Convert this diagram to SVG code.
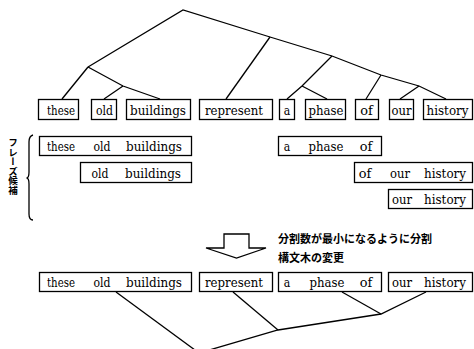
<svg xmlns="http://www.w3.org/2000/svg" width="474" height="349" viewBox="0 0 474 349">
<style>
.box{fill:#fff;stroke:#000;stroke-width:1.3}
.w{font-family:'DejaVu Serif','Liberation Serif',serif;font-size:13.5px;fill:#000;text-anchor:middle}
.jp{font-family:"Noto Sans CJK JP","Noto Sans CJK SC",sans-serif;font-size:11px;font-weight:bold;fill:#000}
.e{stroke:#000;stroke-width:1.3;fill:none}
</style>
<rect width="474" height="349" fill="#fff"/>
<g id="connectors">
<polyline class="e" points="88,67 183,10 270,37 332,56 381,75 419,86 446,99"/>
<line class="e" x1="88" y1="67" x2="62" y2="99"/>
<polyline class="e" points="88,67 123,86 160,99"/>
<line class="e" x1="123" y1="86" x2="104" y2="99"/>
<line class="e" x1="270" y1="37" x2="226" y2="99"/>
<polyline class="e" points="332,56 302,86 287,99"/>
<line class="e" x1="302" y1="86" x2="327" y2="99"/>
<line class="e" x1="381" y1="75" x2="366" y2="99"/>
<line class="e" x1="419" y1="86" x2="400" y2="99"/>
<line class="e" x1="116" y1="292" x2="199" y2="353"/>
<polyline class="e" points="199,353 278,330 381,314 426,292"/>
<line class="e" x1="233" y1="292" x2="278" y2="330"/>
<line class="e" x1="342" y1="292" x2="381" y2="314"/>
</g>
<g id="top-these"><rect class="box" x="38.5" y="99.5" width="40" height="20"/><text class="w" x="61" y="114.5" textLength="28" lengthAdjust="spacingAndGlyphs">these</text></g>
<g id="top-old"><rect class="box" x="91.5" y="99.5" width="25" height="20"/><text class="w" x="104.5" y="114.5" textLength="17" lengthAdjust="spacingAndGlyphs">old</text></g>
<g id="top-buildings"><rect class="box" x="126.5" y="99.5" width="64" height="20"/><text class="w" x="158" y="114.5" textLength="56" lengthAdjust="spacingAndGlyphs">buildings</text></g>
<g id="top-represent"><rect class="box" x="199.5" y="99.5" width="73" height="20"/><text class="w" x="234" y="114.5" textLength="58" lengthAdjust="spacingAndGlyphs">represent</text></g>
<g id="top-a"><rect class="box" x="279.5" y="99.5" width="15" height="20"/><text class="w" x="287" y="114.5" textLength="6.5" lengthAdjust="spacingAndGlyphs">a</text></g>
<g id="top-phase"><rect class="box" x="305.5" y="99.5" width="40" height="20"/><text class="w" x="326" y="114.5" textLength="35" lengthAdjust="spacingAndGlyphs">phase</text></g>
<g id="top-of"><rect class="box" x="355.5" y="99.5" width="23" height="20"/><text class="w" x="366.5" y="114.5" textLength="12.5" lengthAdjust="spacingAndGlyphs">of</text></g>
<g id="top-our"><rect class="box" x="389.5" y="99.5" width="24" height="20"/><text class="w" x="401.5" y="114.5" textLength="20" lengthAdjust="spacingAndGlyphs">our</text></g>
<g id="top-history"><rect class="box" x="423.5" y="99.5" width="49" height="20"/><text class="w" x="447.5" y="114.5" textLength="42" lengthAdjust="spacingAndGlyphs">history</text></g>

<g id="cand-these-old-buildings"><rect class="box" x="39.5" y="136.5" width="152" height="19"/><text class="w" x="61" y="151" textLength="28" lengthAdjust="spacingAndGlyphs">these</text><text class="w" x="102" y="151" textLength="17" lengthAdjust="spacingAndGlyphs">old</text><text class="w" x="154" y="151" textLength="56" lengthAdjust="spacingAndGlyphs">buildings</text></g>
<g id="cand-old-buildings"><rect class="box" x="80.5" y="162.5" width="111" height="20"/><text class="w" x="100" y="177.5" textLength="17" lengthAdjust="spacingAndGlyphs">old</text><text class="w" x="153" y="177.5" textLength="56" lengthAdjust="spacingAndGlyphs">buildings</text></g>
<g id="cand-a-phase-of"><rect class="box" x="278.5" y="136.5" width="103" height="19"/><text class="w" x="287" y="151" textLength="6.5" lengthAdjust="spacingAndGlyphs">a</text><text class="w" x="326" y="151" textLength="35" lengthAdjust="spacingAndGlyphs">phase</text><text class="w" x="366" y="151" textLength="12.5" lengthAdjust="spacingAndGlyphs">of</text></g>
<g id="cand-of-our-history"><rect class="box" x="354.5" y="162.5" width="118" height="20"/><text class="w" x="365" y="177.5" textLength="12.5" lengthAdjust="spacingAndGlyphs">of</text><text class="w" x="400" y="177.5" textLength="20" lengthAdjust="spacingAndGlyphs">our</text><text class="w" x="445" y="177.5" textLength="42" lengthAdjust="spacingAndGlyphs">history</text></g>
<g id="cand-our-history"><rect class="box" x="388.5" y="189.5" width="84" height="19"/><text class="w" x="402" y="204" textLength="20" lengthAdjust="spacingAndGlyphs">our</text><text class="w" x="445" y="204" textLength="42" lengthAdjust="spacingAndGlyphs">history</text></g>

<g id="res-these-old-buildings"><rect class="box" x="39.5" y="272.5" width="152" height="19"/><text class="w" x="61" y="287" textLength="28" lengthAdjust="spacingAndGlyphs">these</text><text class="w" x="102" y="287" textLength="17" lengthAdjust="spacingAndGlyphs">old</text><text class="w" x="154" y="287" textLength="56" lengthAdjust="spacingAndGlyphs">buildings</text></g>
<g id="res-represent"><rect class="box" x="199.5" y="272.5" width="73" height="19"/><text class="w" x="234" y="287" textLength="58" lengthAdjust="spacingAndGlyphs">represent</text></g>
<g id="res-a-phase-of"><rect class="box" x="278.5" y="272.5" width="103" height="19"/><text class="w" x="287" y="287" textLength="6.5" lengthAdjust="spacingAndGlyphs">a</text><text class="w" x="327" y="287" textLength="35" lengthAdjust="spacingAndGlyphs">phase</text><text class="w" x="366" y="287" textLength="12.5" lengthAdjust="spacingAndGlyphs">of</text></g>
<g id="res-our-history"><rect class="box" x="388.5" y="272.5" width="84" height="19"/><text class="w" x="402" y="287" textLength="20" lengthAdjust="spacingAndGlyphs">our</text><text class="w" x="445" y="287" textLength="42" lengthAdjust="spacingAndGlyphs">history</text></g>

<g id="label-candidates">
<text class="jp" x="13" y="138" style="writing-mode:vertical-rl;font-size:9.5px">フレーズ候補</text>
<path class="e" d="M33,135 Q29,136 29,142 L29,172 Q29,178 26.5,178 Q29,178 29,184 L29,214 Q29,220 33,220" stroke-width="1"/>
</g>

<g id="arrow"><path d="M224,234 L249,234 L249,248 L266,248 L236.5,258 L206,248 L224,248 Z" fill="#fff" stroke="#000" stroke-width="1.3"/></g>
<g id="arrow-labels">
<text class="jp" x="278" y="243">分割数が最小になるように分割</text>
<text class="jp" x="278" y="262">構文木の変更</text>
</g>
</svg>
